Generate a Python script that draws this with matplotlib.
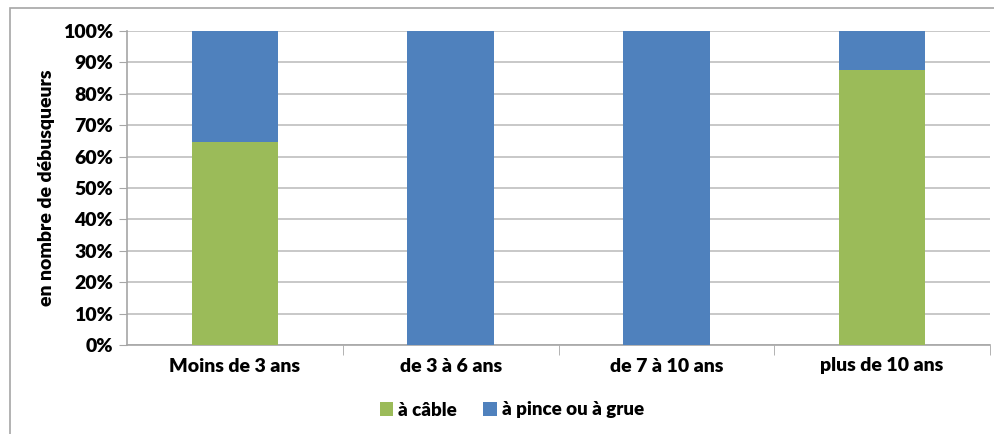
import matplotlib.pyplot as plt
from matplotlib.patches import Rectangle
from matplotlib.ticker import PercentFormatter

categories = ["Moins de 3 ans", "de 3 à 6 ans", "de 7 à 10 ans", "plus de 10 ans"]
cable = [64.7, 0, 0, 87.5]
pince = [35.3, 100, 100, 12.5]
series_names = ["à câble", "à pince ou à grue"]
colors = ["#9BBB59", "#4F81BD"]

plt.rcParams['font.family'] = ['Lato', 'DejaVu Sans']
plt.rcParams['font.weight'] = 'heavy'

fig = plt.figure(figsize=(9.94, 4.34), dpi=100)
ax = fig.add_axes([127 / 994, 1 - 345 / 434, (990 - 127) / 994, (345 - 31) / 434])

# cadre gris autour du graphique
fig.patches.append(Rectangle((10 / 994, -0.05), 1.1, 1 - 8 / 434 + 0.05,
                             transform=fig.transFigure, fill=False,
                             edgecolor="#A6A6A6", linewidth=1.2))

x = range(len(categories))
ax.bar(x, cable, width=0.4, color=colors[0], label=series_names[0], zorder=3)
ax.bar(x, pince, width=0.4, bottom=cable, color=colors[1], label=series_names[1], zorder=3)

ax.set_xlim(-0.5, 3.5)
ax.set_ylim(0, 100)
ax.set_yticks(range(0, 101, 10))
ax.yaxis.set_major_formatter(PercentFormatter(decimals=0))
ax.yaxis.grid(True, color="#BFBFBF", linewidth=1.2, zorder=0)
ax.set_xticks(x)
ax.set_xticklabels(categories)
ax.set_xticks([0.5, 1.5, 2.5, 3.5], minor=True)

for side in ["top", "right"]:
    ax.spines[side].set_visible(False)
ax.spines["left"].set_color("#A6A6A6")
ax.spines["bottom"].set_color("#A6A6A6")
ax.spines["left"].set_linewidth(1.2)
ax.spines["bottom"].set_linewidth(1.2)

ax.tick_params(axis="y", length=6, color="#A6A6A6", labelsize=14, pad=4)
ax.tick_params(axis="x", which="major", length=0, labelsize=14, pad=9)
ax.tick_params(axis="x", which="minor", length=7, color="#A6A6A6")

ax.set_ylabel("en nombre de débusqueurs", fontsize=14, fontweight="heavy", labelpad=6)

ax.legend(loc="center", bbox_to_anchor=(512 / 994, 1 - 410 / 434), bbox_transform=fig.transFigure,
          ncol=2, frameon=False, fontsize=13.5, handlelength=0.7, handleheight=0.7,
          columnspacing=1.4, handletextpad=0.3)

fig.savefig("out.png", dpi=100)
